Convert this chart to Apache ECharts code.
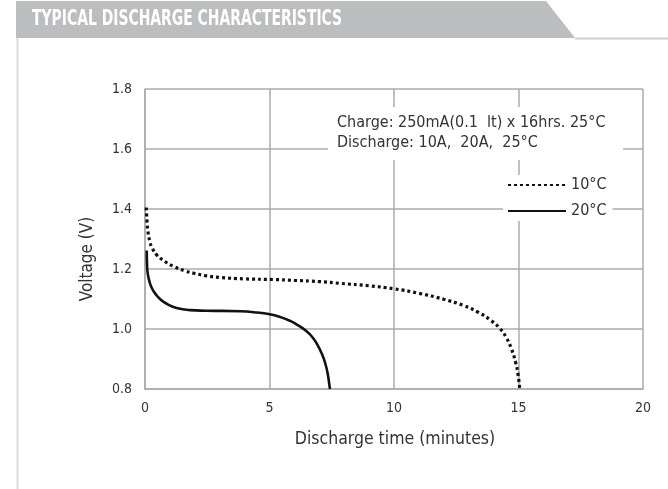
<!DOCTYPE html>
<html>
<head>
<meta charset="utf-8">
<script src="https://cdn.jsdelivr.net/npm/echarts@6/dist/echarts.min.js"></script>
<style>
html,body{margin:0;padding:0;background:#fff;}
#chart{width:668px;height:489px;}
</style>
</head>
<body>
<div id="chart"></div>
<script>
var titleText = 'TYPICAL DISCHARGE CHARACTERISTICS';
var noteLines = ['Charge: 250mA(0.1  lt) x 16hrs. 25°C', 'Discharge: 10A,  20A,  25°C'];
var xAxisName = 'Discharge time (minutes)';
var yAxisName = 'Voltage (V)';
var seriesNames = ['10°C', '20°C'];
var xTicks = [0, 20, 5];
var yTicks = [0.8, 1.8, 0.2];

var curve10C = [
  [0.05,1.405],[0.08,1.36],[0.12,1.325],[0.2,1.29],[0.3,1.268],[0.47,1.247],[0.8,1.225],
  [1.14,1.209],[1.6,1.194],[2.0,1.185],[2.48,1.177],[3.0,1.172],[4.0,1.167],[5.16,1.165],
  [6.0,1.162],[7.0,1.158],[7.85,1.152],[9.0,1.144],[10.0,1.134],[11.0,1.119],[12.0,1.099],
  [12.8,1.078],[13.4,1.055],[13.9,1.028],[14.25,1.002],[14.5,0.973],[14.72,0.933],[14.88,0.89],
  [14.98,0.85],[15.05,0.80]
];
var curve20C = [
  [0.07,1.262],[0.08,1.22],[0.11,1.185],[0.2,1.152],[0.33,1.128],[0.6,1.10],[0.9,1.083],
  [1.27,1.07],[1.8,1.063],[2.48,1.061],[3.82,1.059],[4.5,1.055],[4.96,1.05],[5.4,1.041],
  [5.83,1.027],[6.15,1.012],[6.45,0.995],[6.7,0.975],[6.92,0.948],[7.1,0.918],[7.24,0.885],
  [7.34,0.85],[7.41,0.81],[7.43,0.80]
];

var FONT = '"DejaVu Sans Condensed", "DejaVu Sans", sans-serif';
var chart = echarts.init(document.getElementById('chart'), null, {renderer: 'canvas'});
chart.setOption({
  backgroundColor: '#ffffff',
  animation: false,
  grid: {left: 145, top: 89, width: 498, height: 300, containLabel: false},
  xAxis: {
    type: 'value', min: xTicks[0], max: xTicks[1], interval: xTicks[2],
    axisLine: {show: true, lineStyle: {color: '#ababab', width: 1.5}},
    axisTick: {show: false},
    splitLine: {show: true, lineStyle: {color: '#ababab', width: 1.5}},
    axisLabel: {color: '#333', fontFamily: FONT, fontSize: 14, margin: 12}
  },
  yAxis: {
    type: 'value', min: yTicks[0], max: yTicks[1], interval: yTicks[2],
    axisLine: {show: true, lineStyle: {color: '#ababab', width: 1.5}},
    axisTick: {show: false},
    splitLine: {show: true, lineStyle: {color: '#ababab', width: 1.5}},
    axisLabel: {color: '#333', fontFamily: FONT, fontSize: 14, margin: 13,
      formatter: function (v) { return v.toFixed(1); }}
  },
  legend: {
    show: true,
    orient: 'vertical', left: 503, top: 175,
    itemWidth: 58, itemHeight: 10, itemGap: 10,
    padding: [2, 6, 2, 4],
    backgroundColor: '#ffffff',
    itemStyle: {opacity: 0},
    textStyle: {color: '#333', fontFamily: FONT, fontSize: 16},
    data: [seriesNames[0], seriesNames[1]]
  },
  series: [
    {name: seriesNames[0], type: 'line', data: curve10C, showSymbol: false, symbol: 'none',
     smooth: 0.5, lineStyle: {color: '#111', width: 3.2, type: [3, 3]}, itemStyle: {color: '#111'}, z: 3},
    {name: seriesNames[1], type: 'line', data: curve20C, showSymbol: false, symbol: 'none',
     smooth: 0.5, lineStyle: {color: '#111', width: 2.6, type: 'solid'}, itemStyle: {color: '#111'}, z: 3}
  ],
  graphic: [
    {type: 'polygon', shape: {points: [[16,1],[546,1],[575,38],[16,38]]}, style: {fill: '#bcbdbf'}},
    {type: 'text', x: 32, y: 20, scaleX: 0.737, style: {text: titleText, fill: '#ffffff',
      font: 'bold 21px ' + FONT, verticalAlign: 'middle'}},
    {type: 'line', shape: {x1: 575, y1: 38.5, x2: 668, y2: 38.5}, style: {stroke: '#cfcfcf', lineWidth: 2}},
    {type: 'line', shape: {x1: 17.5, y1: 38, x2: 17.5, y2: 489}, style: {stroke: '#dcdcdc', lineWidth: 2}},
    {type: 'rect', shape: {x: 328, y: 107, width: 295, height: 53}, style: {fill: '#ffffff'}, z: 10},
    {type: 'text', x: 337, y: 123, z: 11, style: {text: noteLines[0], fill: '#333', font: '16px ' + FONT, verticalAlign: 'middle'}},
    {type: 'text', x: 337, y: 143, z: 11, style: {text: noteLines[1], fill: '#333', font: '16px ' + FONT, verticalAlign: 'middle'}},
    {type: 'text', x: 395, y: 439, z: 11, style: {text: xAxisName, fill: '#333', font: '17.5px ' + FONT, align: 'center', verticalAlign: 'middle'}},
    {type: 'text', x: 88, y: 259, rotation: Math.PI / 2, z: 11,
      style: {text: yAxisName, fill: '#333', font: '17px ' + FONT, align: 'center', verticalAlign: 'middle'}}
  ]
});
</script>
</body>
</html>
